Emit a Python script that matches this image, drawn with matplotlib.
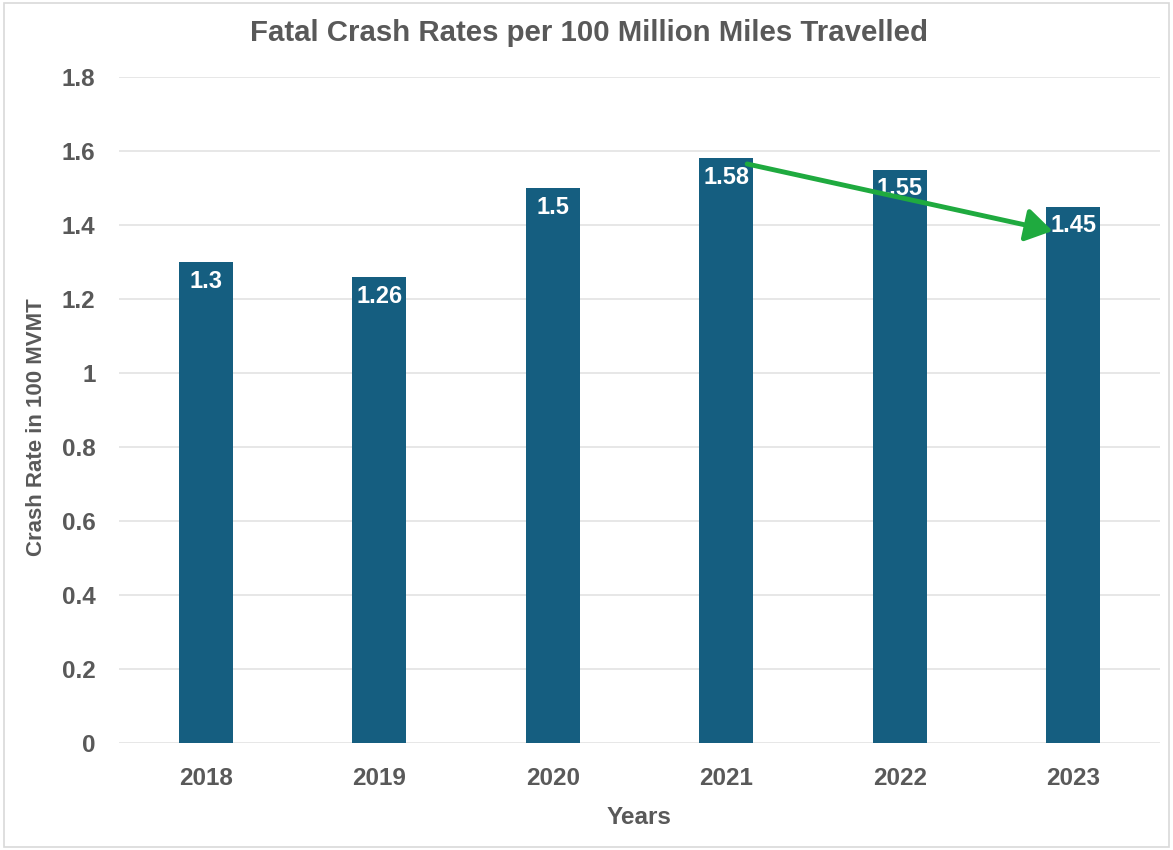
import matplotlib
matplotlib.use("Agg")
import matplotlib.pyplot as plt
from matplotlib.patches import Rectangle

# データ
years = ["2018", "2019", "2020", "2021", "2022", "2023"]
rates = [1.3, 1.26, 1.5, 1.58, 1.55, 1.45]
y_ticks = [0, 0.2, 0.4, 0.6, 0.8, 1, 1.2, 1.4, 1.6, 1.8]
y_tick_labels = ["0", "0.2", "0.4", "0.6", "0.8", "1", "1.2", "1.4", "1.6", "1.8"]

# 矢印（2021→2023の減少傾向）
arrow_start = (3.12, 1.565)
arrow_end = (4.88, 1.384)

plt.rcParams["font.family"] = ["Liberation Sans", "DejaVu Sans"]
text_grey = "#595959"
bar_color = "#155E80"

fig = plt.figure(figsize=(11.73, 8.5), dpi=100)
ax = fig.add_axes([0.1015, 0.1259, 0.8875, 0.7835])

x = range(len(years))
ax.bar(x, rates, width=0.31, color=bar_color, zorder=3)

# 棒の中にラベル
for xi, v in zip(x, rates):
    ax.text(xi, v - 0.052, f"{v:g}", ha="center", va="center", color="white",
            fontsize=17, fontweight="bold", zorder=4)

ax.set_xlim(-0.5, 5.5)
ax.set_ylim(0, 1.8)
ax.set_yticks(y_ticks)
ax.set_yticklabels(y_tick_labels)
ax.set_xticks(list(x))
ax.set_xticklabels(years)
ax.tick_params(axis="both", length=0, labelsize=17.5, colors=text_grey)
ax.tick_params(axis="y", pad=17)
ax.tick_params(axis="x", pad=17)
for lab in ax.get_xticklabels() + ax.get_yticklabels():
    lab.set_fontweight("bold")

ax.grid(axis="y", color="#E3E3E3", linewidth=1.2, zorder=0)
for s in ax.spines.values():
    s.set_visible(False)

ax.annotate("", xy=arrow_end, xytext=arrow_start,
            arrowprops=dict(arrowstyle="-|>,head_length=1.6,head_width=1.0",
                            color="#1FAA3F", lw=3.5, shrinkA=0, shrinkB=0),
            zorder=5)

fig.text(0.502, 0.961, "Fatal Crash Rates per 100 Million Miles Travelled",
         ha="center", va="center", fontsize=21.2, fontweight="bold", color=text_grey)
ax.set_xlabel("Years", fontsize=17.5, fontweight="bold", color=text_grey)
ax.set_ylabel("Crash Rate in 100 MVMT", fontsize=16, fontweight="bold", color=text_grey)
# ラベル位置を微調整
ax.xaxis.set_label_coords(639 / 1173, 1 - 817 / 850, transform=fig.transFigure)
ax.xaxis.label.set_verticalalignment("center")
ax.yaxis.set_label_coords(37 / 1173, 1 - 427 / 850, transform=fig.transFigure)
ax.yaxis.label.set_verticalalignment("center")

# 外枠
fig.patches.append(Rectangle((0.003, 0.003), 0.994, 0.994, transform=fig.transFigure,
                             fill=False, edgecolor="#D9D9D9", linewidth=1.2))

fig.savefig("out.png", dpi=100)
